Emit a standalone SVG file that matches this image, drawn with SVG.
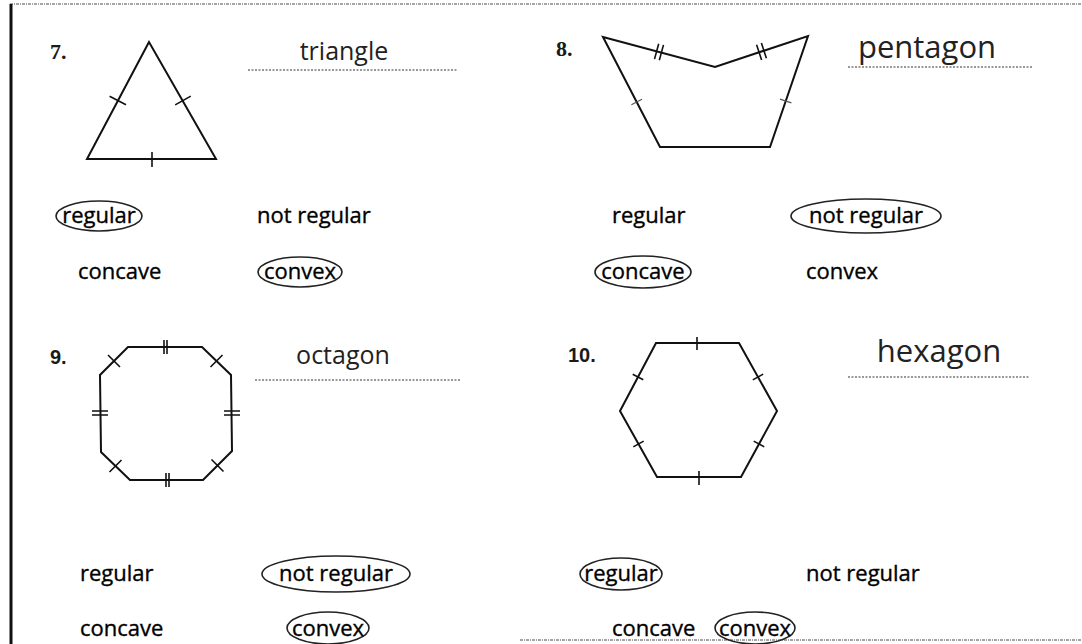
<svg xmlns="http://www.w3.org/2000/svg" width="1082" height="644" viewBox="0 0 1082 644">
<style>
.num{font-family:"Liberation Serif",serif;font-weight:bold;font-size:22px;fill:#1a1a1a}
.nums{font-family:"Liberation Sans",sans-serif;font-weight:bold;font-size:20px;fill:#1a1a1a}
.title{font-family:"Open Sans",sans-serif;font-size:25px;fill:#222;text-anchor:middle}
.big{font-size:31px}
.lbl{font-family:"Open Sans",sans-serif;font-size:22px;font-weight:500;fill:#000;stroke:#000;stroke-width:0.35}
.c{text-anchor:middle}
.shape{fill:none;stroke:#111;stroke-width:2;stroke-linejoin:miter}
.tick{stroke:#111;stroke-width:1.6;fill:none}
.ftick{stroke:#555;stroke-width:1.2;fill:none}
.ring{fill:none;stroke:#222;stroke-width:1.6}
.under{stroke:#777;stroke-width:1.3;stroke-dasharray:2 1.5;fill:none}
.edge{stroke:#888;stroke-width:1.5;stroke-dasharray:3 1 1 1;fill:none}
</style>
<rect width="1082" height="644" fill="#fff"/>
<g id="frame">
<line class="edge" x1="10" y1="4" x2="1082" y2="4"/>
<line x1="11" y1="4" x2="11" y2="644" stroke="#111" stroke-width="3"/>
<line class="edge" x1="520" y1="640" x2="1082" y2="640"/>
</g>
<g id="connectors"/>
<g id="item7">
<text class="num" x="50" y="59">7.</text>
<polygon class="shape" points="149,42 87,159 216,159"/>
<path class="tick" d="M109.6,96.2 L126,104.8 M175.2,104.9 L190.8,96.1 M152,152 L152,167"/>
<text class="title" x="344" y="60">triangle</text>
<line class="under" x1="248" y1="70" x2="458" y2="70"/>
<ellipse class="ring" cx="99" cy="216" rx="43" ry="15"/>
<text class="lbl c" x="99" y="223">regular</text>
<text class="lbl" x="257" y="223">not regular</text>
<text class="lbl" x="78" y="279">concave</text>
<ellipse class="ring" cx="300" cy="272" rx="42" ry="15"/>
<text class="lbl c" x="300" y="279">convex</text>
</g>
<g id="item8">
<text class="num" x="556" y="56">8.</text>
<polygon class="shape" points="603,37 715,67 808,36 770,147 660,147"/>
<path class="tick" d="M658.7,43.7 L654.5,59.1 M663.5,44.9 L659.3,60.3 M756.6,44.7 L761.6,59.9 M761.4,43.1 L766.4,58.3"/>
<path class="ftick" d="M631.4,104.8 L642,99.2 M780,99.1 L791.4,102.9"/>
<text class="title big" x="927" y="58">pentagon</text>
<line class="under" x1="848" y1="67" x2="1032" y2="67"/>
<text class="lbl" x="612" y="223">regular</text>
<ellipse class="ring" cx="866" cy="216" rx="75" ry="17"/>
<text class="lbl c" x="866" y="223">not regular</text>
<ellipse class="ring" cx="643" cy="272" rx="48" ry="16"/>
<text class="lbl c" x="643" y="279">concave</text>
<text class="lbl" x="806" y="279">convex</text>
</g>
<g id="item9">
<text class="nums" x="50" y="364">9.</text>
<polygon class="shape" points="128,347 202,347 231,375 232,451 203,480 130,480 101,452 100,375"/>
<path class="tick" d="M164,340 L164,354 M167,340 L167,354 M166,473 L166,487 M169,473 L169,487 M92,411 L108,411 M92,415 L108,415 M224,411 L240,411 M224,415 L240,415 M108,355 L120,367 M210.5,367 L222.5,355 M211.5,459.5 L223.5,471.5 M109.5,472 L121.5,460"/>
<text class="title" x="343" y="364">octagon</text>
<line class="under" x1="255" y1="380" x2="460" y2="380"/>
<text class="lbl" x="80" y="581">regular</text>
<ellipse class="ring" cx="336" cy="574" rx="74" ry="18"/>
<text class="lbl c" x="336" y="581">not regular</text>
<text class="lbl" x="80" y="636">concave</text>
<ellipse class="ring" cx="328" cy="628" rx="41" ry="16"/>
<text class="lbl c" x="328" y="636">convex</text>
</g>
<g id="item10">
<text class="nums" x="568" y="362">10.</text>
<polygon class="shape" points="656,343 739,343 777,411 741,477 657,477 620,411"/>
<path class="tick" d="M697,337 L697,350 M699,471 L699,485 M632.7,374.2 L643.3,379.8 M752.8,379.9 L763.2,374.1 M753.7,441.1 L764.3,446.9 M633.3,446.9 L643.7,441.1"/>
<text class="title big" x="939" y="362">hexagon</text>
<line class="under" x1="848" y1="377" x2="1030" y2="377"/>
<ellipse class="ring" cx="621" cy="574" rx="41" ry="16"/>
<text class="lbl c" x="621" y="581">regular</text>
<text class="lbl" x="806" y="581">not regular</text>
<text class="lbl" x="612" y="636">concave</text>
<ellipse class="ring" cx="755" cy="628" rx="40" ry="16"/>
<text class="lbl c" x="755" y="636">convex</text>
</g>
</svg>
